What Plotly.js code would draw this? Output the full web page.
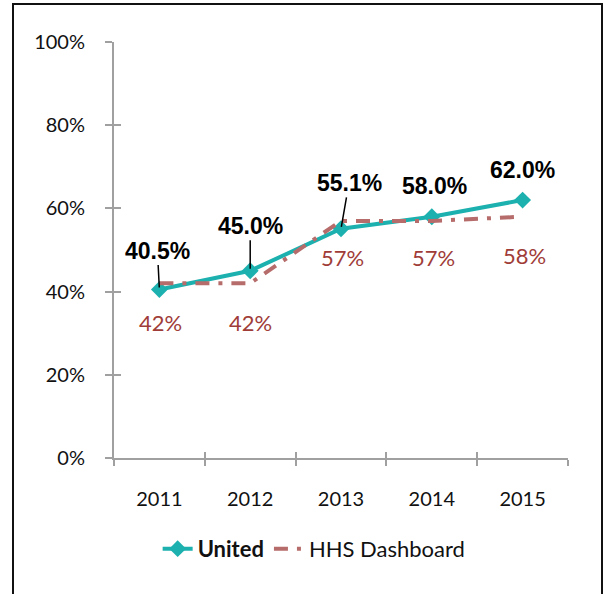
<!DOCTYPE html>
<html>
<head>
<meta charset="utf-8">
<script src="https://cdn.plot.ly/plotly-3.0.1.min.js"></script>
<style>
html,body{margin:0;padding:0;background:#fff;}
#wrap{position:relative;width:610px;height:594px;}
#chart{width:610px;height:594px;}
#frame{position:absolute;left:12px;top:3px;width:591px;height:600px;border:2px solid #111;box-sizing:border-box;pointer-events:none;}
#err{position:absolute;left:20px;top:10px;color:red;font:12px monospace;}
</style>
</head>
<body>
<div id="wrap"><div id="chart"></div><div id="frame"></div><div id="err"></div></div>
<script>
window.onerror = function(m){ document.getElementById('err').textContent += m + ' | '; };
const years = ['2011','2012','2013','2014','2015'];
const united = [40.5, 45.0, 55.1, 58.0, 62.0];
const hhs = [42, 42, 57, 57, 58];
const yTicks = [0, 20, 40, 60, 80, 100];

const teal = '#1cb0ae';
const hhsLine = '#b66c6a';
const hhsText = '#a03c38';
const axisGray = '#a0a0a0';

const unitedOff = [[-2,-39,true],[0,-45,true],[8,-46,true],[3,-31,false],[0,-30,false]];
const hhsOff = [[1,-39],[0,-39],[1,-37],[2,-37],[2,-39]];

const traces = [
  {x: years, y: united, name: '<b>United</b>', type: 'scatter', mode: 'lines+markers',
   line: {color: teal, width: 4}, marker: {symbol: 'diamond', size: 13, color: teal}},
  {x: years, y: hhs, name: 'HHS Dashboard', type: 'scatter', mode: 'lines',
   line: {color: hhsLine, width: 4, dash: '14px,9px,4px,9px'}}
];

const annotations = [];
for (let i = 0; i < years.length; i++) {
  const o = unitedOff[i];
  const a = {x: i, y: united[i], xref: 'x', yref: 'y', text: '<b>' + united[i].toFixed(1) + '%</b>',
    font: {family: 'Liberation Sans, Arial, sans-serif', size: 23, color: '#000000'}};
  if (o[2]) {
    a.showarrow = true; a.arrowhead = 0; a.arrowwidth = 1.5; a.arrowcolor = '#000000';
    a.ax = o[0]; a.ay = o[1]; a.standoff = 2;
  } else {
    a.showarrow = false; a.xshift = o[0]; a.yshift = -o[1];
  }
  annotations.push(a);
  const h = hhsOff[i];
  annotations.push({x: i, y: hhs[i], xref: 'x', yref: 'y', text: hhs[i] + '%', showarrow: false,
    xshift: h[0], yshift: h[1], font: {family: 'Lato, Open Sans, sans-serif', size: 22, color: hhsText}});
}

const layout = {
  width: 610, height: 594,
  margin: {l: 114, r: 42, t: 42, b: 136},
  paper_bgcolor: '#ffffff', plot_bgcolor: '#ffffff',
  font: {family: 'Lato, Open Sans, sans-serif', size: 20, color: '#111111'},
  showlegend: true,
  legend: {orientation: 'h', xref: 'container', yref: 'container', x: 0.515, y: 0.076,
    xanchor: 'center', yanchor: 'middle', font: {family: 'Lato, Open Sans, sans-serif', size: 22, color: '#111111'}},
  xaxis: {type: 'category', categoryorder: 'array', categoryarray: years, range: [-0.5, 4.5],
    showline: true, linecolor: axisGray, linewidth: 2, ticks: 'outside', tickson: 'boundaries',
    ticklen: 6, tickwidth: 2, tickcolor: axisGray, showgrid: false, zeroline: false,
    ticklabelstandoff: 22, fixedrange: true},
  yaxis: {range: [0, 100], tickvals: yTicks, ticktext: yTicks.map(v => v + '%'),
    showline: true, linecolor: axisGray, linewidth: 2, ticks: 'outside', ticklen: 7, tickwidth: 2,
    tickcolor: axisGray, showgrid: false, zeroline: false, ticklabelstandoff: 16, fixedrange: true},
  xaxis2: {overlaying: 'x', anchor: 'y', type: 'linear', range: [-0.5, 4.5], tick0: -0.5, dtick: 1,
    ticks: 'inside', ticklen: 6, tickwidth: 2, tickcolor: axisGray, showticklabels: false,
    showgrid: false, zeroline: false, showline: false},
  yaxis2: {overlaying: 'y', anchor: 'x', range: [0, 100], tick0: 0, dtick: 20,
    ticks: 'inside', ticklen: 7, tickwidth: 2, tickcolor: axisGray, showticklabels: false,
    showgrid: false, zeroline: false, showline: false},
  annotations: annotations
};

traces.push({x: [0], y: [0], xaxis: 'x2', yaxis: 'y2', mode: 'markers', marker: {opacity: 0}, showlegend: false, hoverinfo: 'skip'});

Plotly.newPlot('chart', traces, layout, {displayModeBar: false, staticPlot: true})
  .catch(e => { document.getElementById('err').textContent += String(e); });
</script>
</body>
</html>
